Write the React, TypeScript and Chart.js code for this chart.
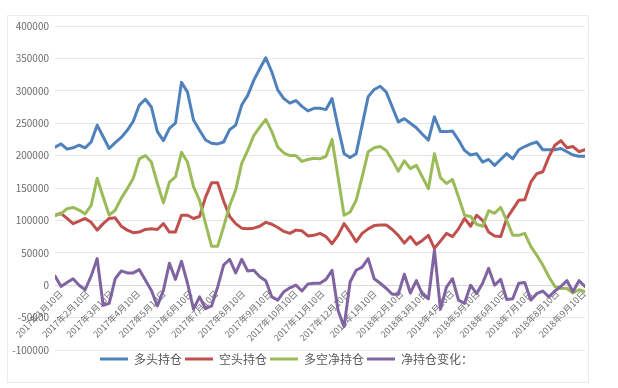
import React, { useEffect, useRef } from "react";
import { Chart, registerables } from "chart.js";

Chart.register(...registerables);

// Weekly report dates start here (one point per week)
const firstReportDate = "2017-01-03";
const weekCount = 89;

// 多头持仓
const longPositions = [
  213000, 218000, 210000, 212000, 216000, 212000, 221000, 247000, 229000, 211000,
  220000, 228000, 239000, 253000, 278000, 287000, 275000, 237000, 223000, 242000,
  250000, 313000, 298000, 255000, 239000, 224000, 219000, 218000, 221000, 240000,
  247000, 278000, 293000, 316000, 334000, 351000, 329000, 301000, 288000, 281000,
  285000, 276000, 269000, 273000, 273000, 271000, 288000, 244000, 203000, 197000,
  203000, 247000, 291000, 302000, 307000, 298000, 275000, 252000, 257000, 250000,
  243000, 233000, 224000, 260000, 237000, 237000, 238000, 224000, 208000, 201000,
  203000, 190000, 194000, 185000, 194000, 203000, 195000, 209000, 214000, 218000,
  221000, 209000, 209000, 209000, 211000, 206000, 201000, 199000, 199000,
];

// 空头持仓
const shortPositions = [
  108000, 111000, 103000, 95000, 99000, 103000, 97000, 85000, 95000, 103000,
  104000, 91000, 85000, 81000, 82000, 86000, 87000, 86000, 95000, 82000,
  82000, 108000, 108000, 103000, 106000, 136000, 158000, 158000, 130000, 106000,
  95000, 88000, 87000, 88000, 91000, 97000, 94000, 89000, 83000, 80000,
  85000, 84000, 76000, 77000, 80000, 75000, 64000, 77000, 95000, 82000,
  67000, 80000, 87000, 92000, 93000, 93000, 86000, 77000, 65000, 75000,
  63000, 69000, 77000, 57000, 68000, 80000, 75000, 87000, 103000, 91000,
  108000, 100000, 82000, 76000, 75000, 103000, 117000, 131000, 132000, 159000,
  172000, 175000, 198000, 216000, 223000, 212000, 214000, 206000, 209000,
];

// 多空净持仓
const netPositions = [
  108000, 110000, 118000, 120000, 116000, 110000, 123000, 165000, 136000, 108000,
  116000, 134000, 149000, 165000, 195000, 200000, 190000, 157000, 127000, 159000,
  167000, 205000, 190000, 152000, 131000, 95000, 60000, 60000, 90000, 123000,
  147000, 188000, 208000, 231000, 244000, 256000, 237000, 213000, 204000, 200000,
  200000, 191000, 194000, 196000, 195000, 199000, 225000, 167000, 108000, 113000,
  131000, 167000, 206000, 212000, 214000, 208000, 193000, 176000, 192000, 180000,
  185000, 167000, 149000, 203000, 166000, 157000, 163000, 136000, 108000, 106000,
  94000, 91000, 115000, 111000, 120000, 100000, 77000, 77000, 80000, 60000,
  46000, 31000, 13000, -2000, -5000, -5000, -12000, -7000, -10000,
];

// 净持仓变化
const netChanges = [
  14000, -2000, 4000, 10000, 0, -7000, 14000, 41000, -31000, -28000,
  10000, 22000, 19000, 19000, 24000, 8000, -8000, -32000, -8000, 34000,
  9000, 37000, 3000, -37000, -18000, -36000, -32000, -3000, 31000, 40000,
  19000, 40000, 22000, 23000, 13000, 7000, -18000, -23000, -10000, -4000,
  0, -9000, 2000, 3000, 3000, 9000, 23000, -39000, -64000, 5000,
  23000, 28000, 41000, 10000, 3000, -5000, -14000, -14000, 17000, -12000,
  7000, -14000, -21000, 54000, -37000, -3000, 10000, -23000, -28000, 0,
  -13000, 3000, 26000, 0, 9000, -22000, -21000, 3000, 4000, -23000,
  -13000, -9000, -18000, -9000, -2000, 7000, -10000, 7000, -2000,
];

const seriesNames = ["多头持仓", "空头持仓", "多空净持仓", "净持仓变化："];
const seriesColors = ["#4F81BD", "#C0504D", "#9BBB59", "#8064A2"];

const tickDates = [
  "2017-01-10", "2017-02-10", "2017-03-10", "2017-04-10", "2017-05-10", "2017-06-10",
  "2017-07-10", "2017-08-10", "2017-09-10", "2017-10-10", "2017-11-10", "2017-12-10",
  "2018-01-10", "2018-02-10", "2018-03-10", "2018-04-10", "2018-05-10", "2018-06-10",
  "2018-07-10", "2018-08-10", "2018-09-10",
];
const tickLabels = [
  "2017年1月10日", "2017年2月10日", "2017年3月10日", "2017年4月10日", "2017年5月10日",
  "2017年6月10日", "2017年7月10日", "2017年8月10日", "2017年9月10日", "2017年10月10日",
  "2017年11月10日", "2017年12月10日", "2018年1月10日", "2018年2月10日", "2018年3月10日",
  "2018年4月10日", "2018年5月10日", "2018年6月10日", "2018年7月10日", "2018年8月10日",
  "2018年9月10日",
];

const DAY = 86400000;
const dayOf = (iso: string) => Math.round((Date.parse(iso + "T00:00:00Z") - Date.parse(firstReportDate + "T00:00:00Z")) / DAY);
const weekDays = Array.from({ length: weekCount }, (_, i) => i * 7);
const tickDays = tickDates.map(dayOf);

const FONT = "'Noto Sans CJK SC', 'Noto Sans', sans-serif";

const framePlugin = {
  id: "frame",
  beforeDraw(chart: any) {
    const ctx = chart.ctx;
    ctx.save();
    ctx.fillStyle = "#ffffff";
    ctx.fillRect(0, 0, chart.width, chart.height);
    ctx.strokeStyle = "#ebebeb";
    ctx.lineWidth = 1;
    ctx.strokeRect(7.5, 15.5, 581, 367);
    ctx.restore();
  },
  afterLayout(chart: any) {
    // place the legend row where the original puts it
    if (chart.legend) {
      chart.legend.left = 97;
    }
  },
};

export default function App() {
  const ref = useRef<HTMLCanvasElement | null>(null);

  useEffect(() => {
    if (!ref.current) return;
    const all = [longPositions, shortPositions, netPositions, netChanges];
    const chart = new Chart(ref.current, {
      type: "line",
      data: {
        datasets: all.map((vals, k) => ({
          label: seriesNames[k],
          data: vals.map((v, i) => ({ x: weekDays[i], y: v })),
          borderColor: seriesColors[k],
          backgroundColor: seriesColors[k],
          borderWidth: 3,
          pointRadius: 0,
          tension: 0,
          borderJoinStyle: "round",
          borderCapStyle: "round",
          order: 3 - k,
        })),
      },
      options: {
        responsive: false,
        animation: false,
        layout: { padding: { left: 9, right: 33, top: 26, bottom: 13 } },
        scales: {
          x: {
            type: "linear",
            min: 0,
            max: weekDays[weekDays.length - 1],
            position: { y: 0 } as any,
            grid: { display: false, drawTicks: false },
            border: { display: true, color: "#d9d9d9" },
            afterBuildTicks: (scale: any) => {
              scale.ticks = tickDays.map((v) => ({ value: v }));
            },
            ticks: {
              autoSkip: false,
              maxRotation: 45,
              minRotation: 45,
              padding: 3,
              color: "#707070",
              font: { size: 9, family: FONT },
              callback: (v: any) => {
                const idx = tickDays.indexOf(Number(v));
                return idx >= 0 ? tickLabels[idx] : "";
              },
            },
          },
          y: {
            min: -100000,
            max: 400000,
            afterFit: (s: any) => {
              s.width = 46;
            },
            grid: { color: "#e6e6e6", drawTicks: false },
            border: { display: false },
            ticks: {
              stepSize: 50000,
              padding: 6,
              color: "#6b6b6b",
              font: { size: 10, family: FONT },
              callback: (v: any) => String(v),
            },
          },
        },
        plugins: {
          tooltip: { enabled: false },
          legend: {
            position: "bottom",
            align: "start",
            labels: {
              boxWidth: 28,
              boxHeight: 3,
              padding: 3,
              color: "#595959",
              font: { size: 12, family: FONT },
              sort: (a: any, b: any) => a.datasetIndex - b.datasetIndex,
              generateLabels: (c: any) =>
                (Chart.defaults.plugins.legend.labels as any).generateLabels(c).map((l: any) => ({ ...l, lineWidth: 0 })),
            },
          },
        },
      },
      plugins: [framePlugin],
    } as any);
    return () => chart.destroy();
  }, []);

  return (
    <div style={{ position: "fixed", left: 0, top: 0, width: 618, height: 388, background: "#fff" }}>
      <canvas ref={ref} width={618} height={388} style={{ display: "block" }} />
    </div>
  );
}
